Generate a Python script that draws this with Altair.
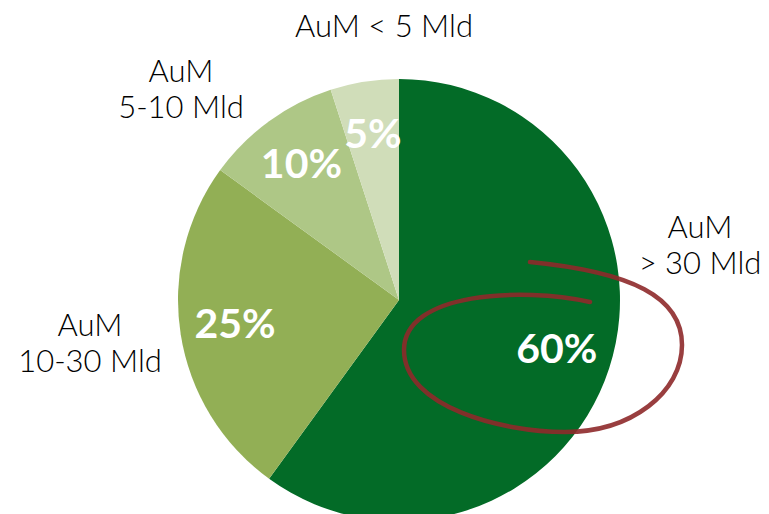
import altair as alt
import pandas as pd

categories = ["AuM > 30 Mld", "AuM 10-30 Mld", "AuM 5-10 Mld", "AuM < 5 Mld"]
shares = [60, 25, 10, 5]
pct_labels = ["60%", "25%", "10%", "5%"]
order_idx = [0, 1, 2, 3]

colors = ["#036B27", "#92AF55", "#AEC786", "#D0DDB9"]

df = pd.DataFrame({"cat": categories, "share": shares, "label": pct_labels, "ord": order_idx})

FONT = "Lato"
CX, CY, R = 399, 300, 221

base = alt.Chart(df).encode(
    theta=alt.Theta("share:Q", stack=True),
    order=alt.Order("ord:Q"),
    x=alt.value(CX),
    y=alt.value(CY),
)

pie = base.mark_arc(radius=R, stroke=None).encode(
    color=alt.Color("cat:N", scale=alt.Scale(domain=categories, range=colors), legend=None)
)

pct = base.mark_text(radius=166, font=FONT, fontSize=41, fontWeight="bold",
                     color="white", align="center", baseline="middle").encode(
    text="label:N"
)

ellipse_path = ("M 48 -45 C -20 -60 -138 -55 -138 3 "
                "C -138 60 -40 85 23 85 "
                "C 90 85 140 45 140 -2 "
                "C 140 -50 90 -75 -12 -85")

ring = alt.Chart(pd.DataFrame({"a": [0]})).mark_point(
    shape=ellipse_path, size=4, filled=False, stroke="#8E2A2B",
    strokeWidth=4.5, opacity=0.9, strokeCap="round"
).encode(x=alt.value(542), y=alt.value(347))

def label(lines, x, y):
    return alt.Chart(pd.DataFrame({"a": [0]})).mark_text(
        text=lines, font=FONT, fontSize=31, fontWeight=300, color="black",
        align="center", baseline="middle", lineHeight=36
    ).encode(x=alt.value(x), y=alt.value(y))

labels = [
    label(["AuM < 5 Mld"], 384, 28),
    label(["AuM", "5-10 Mld"], 181, 73),
    label(["AuM", "> 30 Mld"], 700, 229),
    label(["AuM", "10-30 Mld"], 90, 327),
]

chart = alt.layer(pie, pct, ring, *labels).properties(
    width=769, height=514,
    autosize=alt.AutoSizeParams(type="none"),
    padding=0,
).configure_view(stroke=None)

chart.save("out.html", embed_options={"renderer": "svg", "actions": False})
